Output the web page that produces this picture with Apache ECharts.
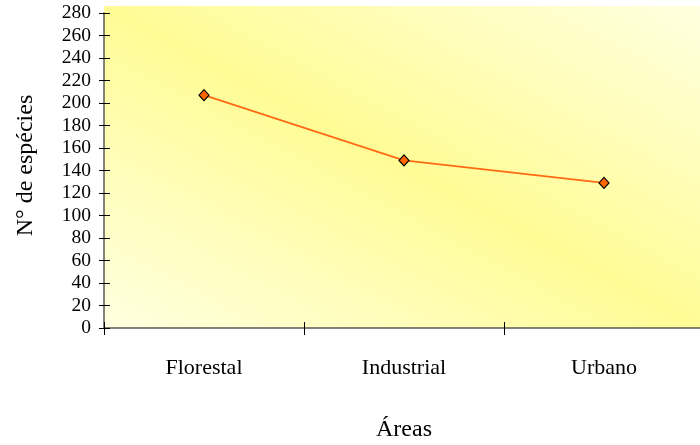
<!DOCTYPE html>
<html>
<head>
<meta charset="utf-8">
<script src="https://cdn.jsdelivr.net/npm/echarts@6/dist/echarts.min.js"></script>
<style>
  html, body { margin: 0; padding: 0; background: #fff; }
  #chart { width: 700px; height: 445px; }
</style>
</head>
<body>
<div id="chart"></div>
<script>
// Number of species per area type
const categories = ['Florestal', 'Industrial', 'Urbano'];
const speciesCount = [207, 149, 129];
const yMin = 0;
const yMax = 280;
const yStep = 20;

const font = '"Liberation Serif", "Times New Roman", serif';
const axisColor = '#5a5a50';

const chart = echarts.init(document.getElementById('chart'), null, { renderer: 'canvas' });

// Plot backdrop: light band toward two corners, stronger yellow along the other diagonal
const bg = { x: 104, y: 6, w: 600, h: 322 };
const cx = bg.x + bg.w / 2, cy = bg.y + bg.h / 2;
const len = Math.hypot(bg.w, bg.h);
const ux = bg.h / len, uy = -bg.w / len;
const half = Math.abs((-bg.w / 2) * ux + (bg.h / 2) * uy);

chart.setOption({
  animation: false,
  graphic: [{
    type: 'rect',
    z: -10,
    shape: { x: bg.x, y: bg.y, width: bg.w, height: bg.h },
    style: {
      fill: new echarts.graphic.LinearGradient(
        cx - ux * half, cy - uy * half, cx + ux * half, cy + uy * half, [
          { offset: 0, color: '#FFFFE0' },
          { offset: 0.5, color: '#FFFC96' },
          { offset: 1, color: '#FFFFE0' }
        ], true)
    },
    silent: true
  }],
  grid: { left: 104, right: -4, top: 13, bottom: 117, containLabel: false, outerBoundsMode: 'none' },
  xAxis: [{
    type: 'category',
    data: categories,
    boundaryGap: true,
    name: 'Áreas',
    nameLocation: 'middle',
    nameGap: 90,
    nameTextStyle: { fontFamily: font, fontSize: 24, color: '#000' },
    axisLine: { lineStyle: { color: axisColor, width: 1.5 } },
    axisTick: { show: true, inside: false, length: 7, lineStyle: { color: '#000' } },
    axisLabel: { fontFamily: font, fontSize: 22, color: '#000', margin: 29 },
    splitLine: { show: false }
  }, {
    type: 'category',
    data: categories,
    boundaryGap: true,
    position: 'bottom',
    axisLine: { show: false },
    axisTick: { show: true, inside: true, length: 6, lineStyle: { color: '#000' } },
    axisLabel: { show: false },
    splitLine: { show: false }
  }],
  yAxis: [{
    type: 'value',
    min: yMin,
    max: yMax,
    interval: yStep,
    name: 'N° de espécies',
    nameLocation: 'middle',
    nameGap: 66,
    nameTextStyle: { fontFamily: font, fontSize: 24, color: '#000', padding: [0, 0, 0, 10] },
    axisLine: { show: true, lineStyle: { color: axisColor, width: 1.5 } },
    axisTick: { show: true, inside: false, length: 5, lineStyle: { color: '#000' } },
    axisLabel: { fontFamily: font, fontSize: 19.5, color: '#000', margin: 13 },
    splitLine: { show: false }
  }, {
    type: 'value',
    min: yMin,
    max: yMax,
    interval: yStep,
    position: 'left',
    axisLine: { show: false },
    axisTick: { show: true, inside: true, length: 6, lineStyle: { color: '#000' } },
    axisLabel: { show: false },
    splitLine: { show: false }
  }],
  series: [{
    type: 'line',
    data: speciesCount,
    symbol: 'diamond',
    symbolSize: [10, 11],
    lineStyle: { color: '#FF6A13', width: 1.6 },
    itemStyle: { color: '#FF6600', borderColor: '#000', borderWidth: 1.2 }
  }]
});
</script>
</body>
</html>
